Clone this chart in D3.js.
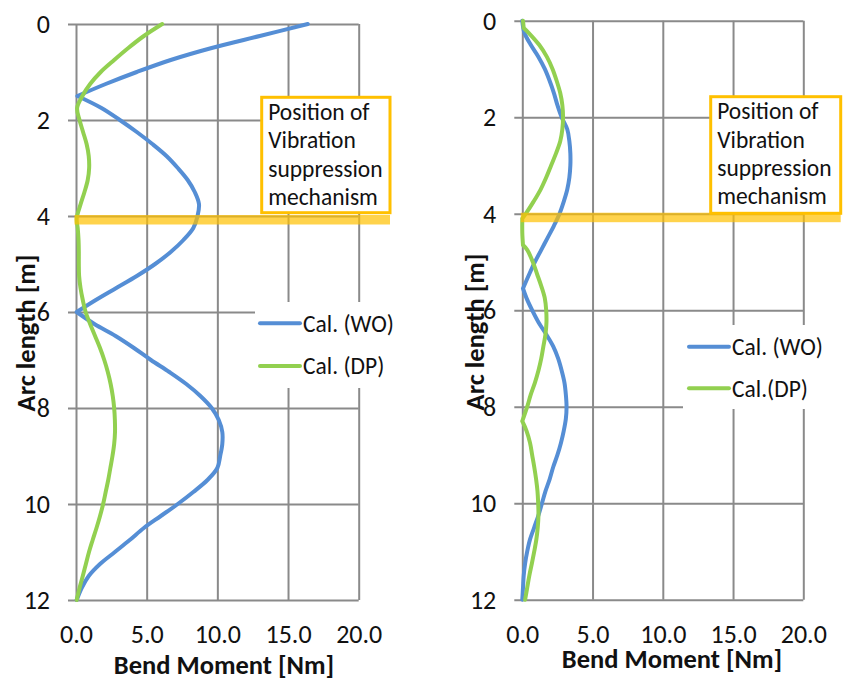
<!DOCTYPE html>
<html lang="en">
<head>
    <meta charset="UTF-8">
    <title>Bend Moment vs Arc length</title>
    <script src="https://d3js.org/d3.v7.min.js"></script>
    <style>
        body {
            margin: 0;
            background: #fff;
        }
        svg text {
            font-family: Carlito, Lato, "Open Sans", sans-serif;
            fill: #111;
        }
        .tick-label { font-size: 26px; }
        .axis-title { font-size: 26.5px; font-weight: bold; }
        .note { font-size: 23.5px; }
        .grid line { stroke: #8a8a8a; stroke-width: 2; }
        .grid path { display: none; }
    </style>
</head>
<body>
<div id="chart"></div>
<script>
    // tick values
    const arcTicks = [0, 2, 4, 6, 8, 10, 12];
    const momentTicks = [0, 5, 10, 15, 20];

    // legend names
    const namesLeft = ["Cal. (WO)", "Cal. (DP)"];
    const namesRight = ["Cal. (WO)", "Cal.(DP)"];
    const noteLines = ["Position of", "Vibration", "suppression", "mechanism"];
    const mechanismArc = 4;

    // [arc length m, bend moment Nm]
    const leftWO = [[0,16.4],[0.25,13.0],[0.5,9.6],[0.75,6.7],[1.0,4.3],[1.25,2.1],[1.5,0.1],[1.75,1.8],
        [2.0,3.1],[2.25,4.3],[2.5,5.4],[2.75,6.4],[3.0,7.2],[3.25,7.9],[3.5,8.4],[3.75,8.7],[4.0,8.6],
        [4.25,8.3],[4.5,7.6],[4.75,6.7],[5.0,5.6],[5.25,4.3],[5.5,2.85],[5.75,1.4],[6.0,0.05],[6.25,1.3],
        [6.5,2.8],[6.75,4.1],[7.0,5.3],[7.25,6.6],[7.5,7.8],[7.75,8.8],[8.0,9.6],[8.25,10.1],[8.5,10.35],
        [8.75,10.35],[9.0,10.2],[9.25,10.0],[9.5,9.3],[9.75,8.3],[10.0,7.2],[10.25,6.0],[10.5,4.8],
        [10.75,3.8],[11.0,2.75],[11.25,1.7],[11.5,0.9],[11.75,0.4],[12,0.05]];
    const leftDP = [[0,6.1],[0.25,4.8],[0.5,3.7],[0.75,2.7],[1.0,1.75],[1.25,1.0],[1.5,0.45],[1.75,0.08],
        [2.0,0.25],[2.25,0.5],[2.5,0.75],[2.75,0.9],[3.0,0.93],[3.25,0.83],[3.5,0.6],[3.75,0.33],[4.05,0.05],
        [4.25,0.12],[4.5,0.18],[4.75,0.2],[5.0,0.2],[5.25,0.22],[5.5,0.32],[5.75,0.48],[6.0,0.68],[6.25,1.0],
        [6.5,1.35],[6.75,1.7],[7.0,2.0],[7.25,2.25],[7.5,2.45],[7.75,2.6],[8.0,2.7],[8.25,2.75],[8.5,2.76],
        [8.75,2.7],[9.0,2.58],[9.25,2.43],[9.5,2.28],[9.75,2.1],[10.0,1.92],[10.25,1.7],[10.5,1.45],
        [10.75,1.18],[11.0,0.92],[11.25,0.7],[11.5,0.48],[11.75,0.25],[12,0.05]];
    const rightWO = [[0,0.0],[0.25,0.15],[0.5,0.6],[0.75,1.15],[1.0,1.6],[1.25,1.95],[1.5,2.25],[1.75,2.5],
        [2.0,2.8],[2.25,3.2],[2.5,3.35],[2.75,3.42],[3.0,3.42],[3.25,3.35],[3.5,3.2],[3.75,2.95],[4.0,2.65],
        [4.25,2.25],[4.5,1.8],[4.75,1.35],[5.0,0.9],[5.25,0.5],[5.55,0.05],[5.75,0.3],[6.0,0.7],[6.25,1.15],
        [6.5,1.7],[6.75,2.2],[7.0,2.55],[7.25,2.8],[7.5,3.0],[7.75,3.1],[8.0,3.15],[8.25,3.1],[8.5,2.95],
        [8.75,2.75],[9.0,2.5],[9.25,2.2],[9.5,1.95],[9.75,1.65],[10.0,1.4],[10.25,1.15],[10.5,0.85],
        [10.75,0.55],[11.0,0.35],[11.25,0.2],[11.5,0.1],[11.75,0.05],[12,0.0]];
    const rightDP = [[0,0.05],[0.15,0.1],[0.25,0.45],[0.5,1.2],[0.75,1.75],[1.0,2.15],[1.25,2.45],[1.5,2.7],
        [1.75,2.85],[2.0,2.9],[2.25,2.85],[2.5,2.7],[2.75,2.4],[3.0,2.05],[3.25,1.7],[3.5,1.3],[3.75,0.8],
        [4.0,0.25],[4.1,0.0],[4.4,0.0],[4.65,0.05],[4.75,0.35],[5.0,0.75],[5.25,1.05],[5.5,1.35],[5.75,1.6],
        [6.0,1.7],[6.25,1.72],[6.5,1.65],[6.75,1.5],[7.0,1.35],[7.25,1.15],[7.5,0.9],[7.75,0.6],[8.0,0.35],
        [8.3,0.0],[8.5,0.3],[8.75,0.55],[9.0,0.7],[9.25,0.85],[9.5,0.98],[9.75,1.08],[10.0,1.13],[10.25,1.15],
        [10.5,1.1],[10.75,1.0],[11.0,0.85],[11.25,0.68],[11.5,0.5],[11.75,0.35],[12,0.2]];

    // arc lengths where a curve has a sharp corner
    const kinksLeft = [[1.5, 6.0], []];
    const kinksRight = [[5.55], [0.15, 4.1, 4.65, 8.3]];

    const colors = ["#558ed5", "#92d050"];

    const svg = d3.select("#chart").append("svg")
        .attr("width", 843)
        .attr("height", 680);

    const panels = [
        {x0: 76, x1: 358.7, y0: 24, y1: 600, series: [leftWO, leftDP], kinks: kinksLeft, names: namesLeft,
         legend: {x: 255, y: 302, w: 150, h: 86, lx: 260, rows: [323.3, 366]},
         note: {x: 261.7, y: 97.3, w: 128.3, h: 115.4},
         xTitle: {x: 224, y: 674}, yTitle: {x: 35, y: 333}},
        {x0: 522.3, x1: 803.3, y0: 20.7, y1: 599.7, series: [rightWO, rightDP], kinks: kinksRight, names: namesRight,
         legend: {x: 683, y: 325, w: 160, h: 84, lx: 689, rows: [346.7, 388.3]},
         note: {x: 710.7, y: 96.7, w: 130, h: 116.6},
         xTitle: {x: 672, y: 668}, yTitle: {x: 484, y: 332}}
    ];

    // split a series into pieces at its corner points
    function pieces(data, kinks) {
        const out = [];
        let cur = [];
        data.forEach(d => {
            cur.push(d);
            if (kinks.includes(d[0])) {
                out.push(cur);
                cur = [d];
            }
        });
        if (cur.length > 1) out.push(cur);
        return out;
    }

    panels.forEach(p => {
        const x = d3.scaleLinear().domain([0, 20]).range([p.x0, p.x1]);
        const y = d3.scaleLinear().domain([0, 12]).range([p.y0, p.y1]);
        const g = svg.append("g");
        const w = p.x1 - p.x0, h = p.y1 - p.y0;

        // vertical grid + x labels
        const gx = g.append("g").attr("class", "grid")
            .attr("transform", `translate(0,${p.y1})`)
            .call(d3.axisBottom(x).tickValues(momentTicks).tickSizeInner(-h).tickSizeOuter(0)
                .tickPadding(26).tickFormat(d3.format(".1f")));
        gx.selectAll("text").attr("class", "tick-label").attr("dy", "0.66em");

        // horizontal grid (with outside tick marks) + y labels
        const gy = g.append("g").attr("class", "grid")
            .attr("transform", `translate(${p.x0 - 8},0)`)
            .call(d3.axisLeft(y).tickValues(arcTicks).tickSizeInner(-(w + 8)).tickSizeOuter(0)
                .tickPadding(18));
        gy.selectAll("text").attr("class", "tick-label");

        // legend background covers the grid
        g.append("rect")
            .attr("x", p.legend.x).attr("y", p.legend.y)
            .attr("width", p.legend.w).attr("height", p.legend.h)
            .attr("fill", "#fff");

        const line = d3.line()
            .x(d => x(d[1]))
            .y(d => y(d[0]))
            .curve(d3.curveCatmullRom.alpha(0.5));

        p.series.forEach((s, i) => {
            g.append("path")
                .attr("d", pieces(s, p.kinks[i]).map(line).join(""))
                .attr("fill", "none")
                .attr("stroke", colors[i])
                .attr("stroke-width", 4)
                .attr("stroke-linejoin", "round")
                .attr("stroke-linecap", "round");

            g.append("line")
                .attr("x1", p.legend.lx).attr("x2", p.legend.lx + 40)
                .attr("y1", p.legend.rows[i]).attr("y2", p.legend.rows[i])
                .attr("stroke", colors[i])
                .attr("stroke-width", 4)
                .attr("stroke-linecap", "round");
            g.append("text")
                .attr("class", "note")
                .attr("x", p.legend.lx + 43)
                .attr("y", p.legend.rows[i])
                .attr("dy", "0.35em")
                .text(p.names[i]);
        });

        // vibration suppression band
        g.append("rect")
            .attr("x", p.x0 - 1.5)
            .attr("y", y(mechanismArc) - 1)
            .attr("width", p.note.x + p.note.w - p.x0 + 1.5)
            .attr("height", 9.5)
            .attr("fill", "#ffc000")
            .attr("opacity", 0.7);

        // annotation box
        g.append("rect")
            .attr("x", p.note.x).attr("y", p.note.y)
            .attr("width", p.note.w).attr("height", p.note.h)
            .attr("fill", "#fff")
            .attr("stroke", "#ffc000")
            .attr("stroke-width", 3);
        noteLines.forEach((t, i) => {
            g.append("text")
                .attr("class", "note")
                .attr("x", p.note.x + 6.5)
                .attr("y", p.note.y + 22.7 + i * 28.3)
                .text(t);
        });

        // axis titles
        g.append("text")
            .attr("class", "axis-title")
            .attr("x", p.xTitle.x).attr("y", p.xTitle.y)
            .attr("text-anchor", "middle")
            .text("Bend Moment [Nm]");
        g.append("text")
            .attr("class", "axis-title")
            .attr("transform", `translate(${p.yTitle.x},${p.yTitle.y}) rotate(-90)`)
            .attr("text-anchor", "middle")
            .text("Arc length [m]");
    });
</script>
</body>
</html>
